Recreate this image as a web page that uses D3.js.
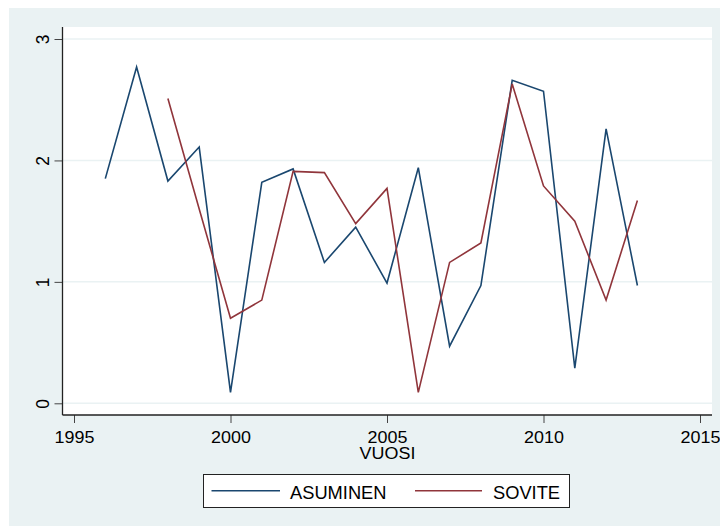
<!DOCTYPE html>
<html>
<head>
<meta charset="utf-8">
<script src="https://cdn.jsdelivr.net/npm/d3@7"></script>
<style>
  html, body { margin: 0; padding: 0; background: #ffffff; }
  svg { display: block; }
  text { font-family: "Liberation Sans", Arial, sans-serif; fill: #000; }
</style>
</head>
<body>
<svg id="chart" width="720" height="526"></svg>
<script>
// Years on the x axis
const years = [1996, 1997, 1998, 1999, 2000, 2001, 2002, 2003, 2004, 2005,
               2006, 2007, 2008, 2009, 2010, 2011, 2012, 2013];

// ASUMINEN, 1996–2013
const asuminen = [1.85, 2.77, 1.83, 2.11, 0.09, 1.82, 1.93, 1.16, 1.45, 0.99,
                  1.94, 0.47, 0.97, 2.66, 2.57, 0.29, 2.26, 0.97];

// SOVITE, starts in 1998
const sovite = [null, null, 2.51, 1.60, 0.70, 0.85, 1.91, 1.90, 1.48, 1.77,
                0.09, 1.16, 1.32, 2.63, 1.79, 1.50, 0.85, 1.67];

const xTicks = [1995, 2000, 2005, 2010, 2015];
const yTicks = [0, 1, 2, 3];
const seriesNames = ["ASUMINEN", "SOVITE"];
const seriesColors = ["#1a476f", "#90353b"];

const svg = d3.select("#chart");

// graph region background
svg.append("rect")
  .attr("x", 9).attr("y", 8).attr("width", 711).attr("height", 518)
  .attr("fill", "#eaf2f3");

// plot region
const plot = { left: 63, right: 712, top: 27, bottom: 415 };
svg.append("rect")
  .attr("x", plot.left).attr("y", plot.top)
  .attr("width", plot.right - plot.left).attr("height", plot.bottom - plot.top)
  .attr("fill", "#ffffff");

const x = d3.scaleLinear().domain([1995, 2015]).range([74, 700]);
const y = d3.scaleLinear().domain([0, 3]).range([403.3, 39]);

// horizontal grid lines
svg.append("g").selectAll("line")
  .data(yTicks).join("line")
  .attr("x1", plot.left).attr("x2", plot.right)
  .attr("y1", d => y(d)).attr("y2", d => y(d))
  .attr("stroke", "#eaf2f3").attr("stroke-width", 1.5);

// series lines
const line = d3.line()
  .defined(d => d[1] != null)
  .x(d => x(d[0]))
  .y(d => y(d[1]));

[asuminen, sovite].forEach((vals, i) => {
  svg.append("path")
    .datum(years.map((yr, j) => [yr, vals[j]]))
    .attr("d", line)
    .attr("fill", "none")
    .attr("stroke", seriesColors[i])
    .attr("stroke-width", 1.6)
    .attr("stroke-linejoin", "miter");
});

// x axis
const xAxis = svg.append("g")
  .attr("transform", `translate(0,${plot.bottom})`)
  .call(d3.axisBottom(x).tickValues(xTicks).tickFormat(d3.format("d"))
        .tickSize(8).tickSizeOuter(0).tickPadding(4));
xAxis.select(".domain").remove();
xAxis.selectAll(".tick line").attr("stroke", "#444").attr("stroke-width", 1);
xAxis.selectAll(".tick text")
  .attr("font-size", 16.3)
  .attr("font-family", "Liberation Sans, Arial, sans-serif")
  .attr("fill", "#000")
  .attr("transform", "scale(1.1,1)")
  .attr("dy", null).attr("y", 28.3);
svg.append("line")
  .attr("x1", plot.left - 0.5).attr("x2", plot.right)
  .attr("y1", plot.bottom).attr("y2", plot.bottom)
  .attr("stroke", "#222").attr("stroke-width", 1.3);

// y axis
const yAxis = svg.append("g")
  .attr("transform", `translate(${plot.left - 0.5},0)`)
  .call(d3.axisLeft(y).tickValues(yTicks).tickFormat(d3.format("d"))
        .tickSize(8).tickSizeOuter(0));
yAxis.select(".domain").remove();
yAxis.selectAll(".tick line").attr("stroke", "#444").attr("stroke-width", 1);
yAxis.selectAll(".tick text")
  .attr("font-size", 17.5)
  .attr("font-family", "Liberation Sans, Arial, sans-serif")
  .attr("fill", "#000")
  .attr("text-anchor", "middle")
  .attr("x", null).attr("dy", null)
  .attr("transform", "translate(-14,0) rotate(-90)")
  .attr("y", 0);
svg.append("line")
  .attr("x1", plot.left - 0.5).attr("x2", plot.left - 0.5)
  .attr("y1", plot.top).attr("y2", plot.bottom)
  .attr("stroke", "#222").attr("stroke-width", 1.3);

// x axis title
svg.append("text")
  .attr("x", 387.5).attr("y", 459.5)
  .attr("text-anchor", "middle")
  .attr("font-size", 16.3)
  .attr("transform", "translate(387.5,0) scale(1.1,1) translate(-387.5,0)")
  .text("VUOSI");

// legend
const legend = svg.append("g");
legend.append("rect")
  .attr("x", 203.5).attr("y", 474.5).attr("width", 366).attr("height", 33)
  .attr("fill", "#ffffff").attr("stroke", "#222").attr("stroke-width", 1);
const legendItems = [
  { x1: 211.5, x2: 280, tx: 290 },
  { x1: 415, x2: 482, tx: 493 }
];
legendItems.forEach((it, i) => {
  legend.append("line")
    .attr("x1", it.x1).attr("x2", it.x2)
    .attr("y1", 490.7).attr("y2", 490.7)
    .attr("stroke", seriesColors[i]).attr("stroke-width", 1.6);
  legend.append("text")
    .attr("x", it.tx).attr("y", 498.5)
    .attr("font-size", 18.3)
    .text(seriesNames[i]);
});
</script>
</body>
</html>
